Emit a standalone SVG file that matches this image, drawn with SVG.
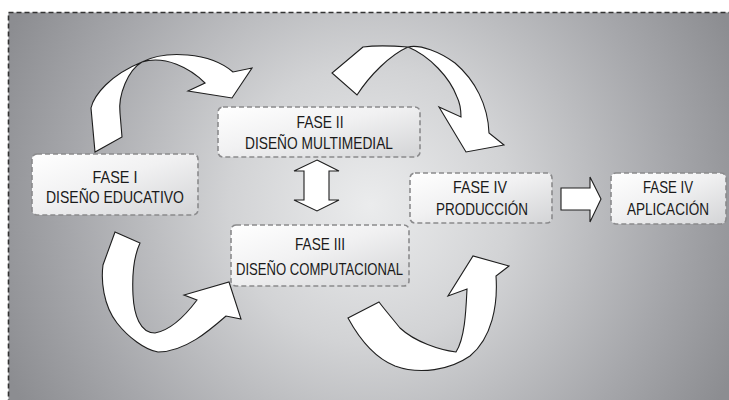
<svg xmlns="http://www.w3.org/2000/svg" width="729" height="400" viewBox="0 0 729 400">
  <defs>
    <radialGradient id="bg" gradientUnits="userSpaceOnUse" cx="370" cy="205" r="400">
      <stop offset="0" stop-color="#ebeced"/>
      <stop offset="0.35" stop-color="#d2d3d5"/>
      <stop offset="0.75" stop-color="#a6a7ab"/>
      <stop offset="1" stop-color="#8c8d91"/>
    </radialGradient>
    <linearGradient id="box" x1="0" y1="0" x2="1" y2="1">
      <stop offset="0" stop-color="#ffffff"/>
      <stop offset="0.45" stop-color="#f1f1f2"/>
      <stop offset="1" stop-color="#d3d4d6"/>
    </linearGradient>
  </defs>
  <style>
    .frame { fill: url(#bg); stroke: #333333; stroke-width: 1.6; stroke-dasharray: 5 3; }
    .box { fill: url(#box); stroke: #8a8a8c; stroke-width: 1.6; stroke-dasharray: 5 3; }
    .arrow { fill: #ffffff; stroke: #1e1e1e; stroke-width: 1.1; stroke-linejoin: miter; }
    .lbl { font-family: "Liberation Sans", Arial, sans-serif; font-size: 17px; fill: #1a1a1a; text-anchor: middle; }
  </style>
  <rect x="0" y="0" width="729" height="400" fill="#ffffff"/>
  <rect class="frame" x="8.5" y="12.5" width="740" height="400"/>

  <g id="connectors">
    <path class="arrow" d="M 95,152 L 91,108 C 94,95 110,75 142,62 C 165,50 210,52 233,72 L 252,68 L 232,98 L 188,91 L 205,83 C 190,68 165,55 142,62 C 128,70 118,95 120,113 L 122,137 Z"/>
    <path class="arrow" d="M 363,47 L 332,73 L 357,95 C 370,75 390,55 408,47 C 430,56 450,78 457,97 C 461,105 461,112 461,117 L 439,107 L 466,152 L 504,145 L 489,133 C 488,105 475,80 455,63 C 440,52 420,44 408,47 C 395,46 378,45 363,47 Z"/>
    <path class="arrow" d="M 115,232 L 103,265 C 101,280 103,305 117,323 C 128,337 145,350 158,352 C 185,352 210,330 226,316 L 241,319 L 229,282 L 184,295 L 197,300 C 188,312 172,330 155,333 C 140,333 134,315 133,295 C 132,275 133,258 140,243 Z"/>
    <path class="arrow" d="M 379,302 L 348,318 C 360,340 375,358 395,366 C 420,375 450,370 470,356 C 492,338 498,305 496,276 L 509,266 L 473,256 L 448,296 L 467,289 C 466,310 465,338 456,352 C 440,350 415,342 400,328 C 392,318 385,310 379,302 Z"/>
    <polygon class="arrow" points="317,160 339,171 329,171 329,200 339,200 317,211 294,200 304,200 304,171 294,171"/>
    <polygon class="arrow" points="561,188 590,188 590,177 601,199 590,222 590,210 561,210"/>
  </g>

  <g id="fase1">
    <rect class="box" x="32" y="154" width="166" height="61" rx="5"/>
    <text class="lbl" x="115" y="183" textLength="45" lengthAdjust="spacingAndGlyphs">FASE I</text>
    <text class="lbl" x="115" y="203" textLength="138" lengthAdjust="spacingAndGlyphs">DISEÑO EDUCATIVO</text>
  </g>
  <g id="fase2">
    <rect class="box" x="218" y="107" width="202" height="50" rx="5"/>
    <text class="lbl" x="320" y="128" textLength="47" lengthAdjust="spacingAndGlyphs">FASE II</text>
    <text class="lbl" x="319" y="149" textLength="148" lengthAdjust="spacingAndGlyphs">DISEÑO MULTIMEDIAL</text>
  </g>
  <g id="fase3">
    <rect class="box" x="231" y="225" width="178" height="61" rx="5"/>
    <text class="lbl" x="320" y="250" textLength="50" lengthAdjust="spacingAndGlyphs">FASE III</text>
    <text class="lbl" x="319.5" y="275" textLength="167" lengthAdjust="spacingAndGlyphs">DISEÑO COMPUTACIONAL</text>
  </g>
  <g id="fase4-produccion">
    <rect class="box" x="410" y="173" width="142" height="50" rx="5"/>
    <text class="lbl" x="480" y="193" textLength="54" lengthAdjust="spacingAndGlyphs">FASE IV</text>
    <text class="lbl" x="482" y="215" textLength="92" lengthAdjust="spacingAndGlyphs">PRODUCCIÓN</text>
  </g>
  <g id="fase4-aplicacion">
    <rect class="box" x="611" y="173" width="115" height="51" rx="5"/>
    <text class="lbl" x="668" y="193" textLength="50" lengthAdjust="spacingAndGlyphs">FASE IV</text>
    <text class="lbl" x="668" y="215" textLength="82" lengthAdjust="spacingAndGlyphs">APLICACIÓN</text>
  </g>
</svg>
